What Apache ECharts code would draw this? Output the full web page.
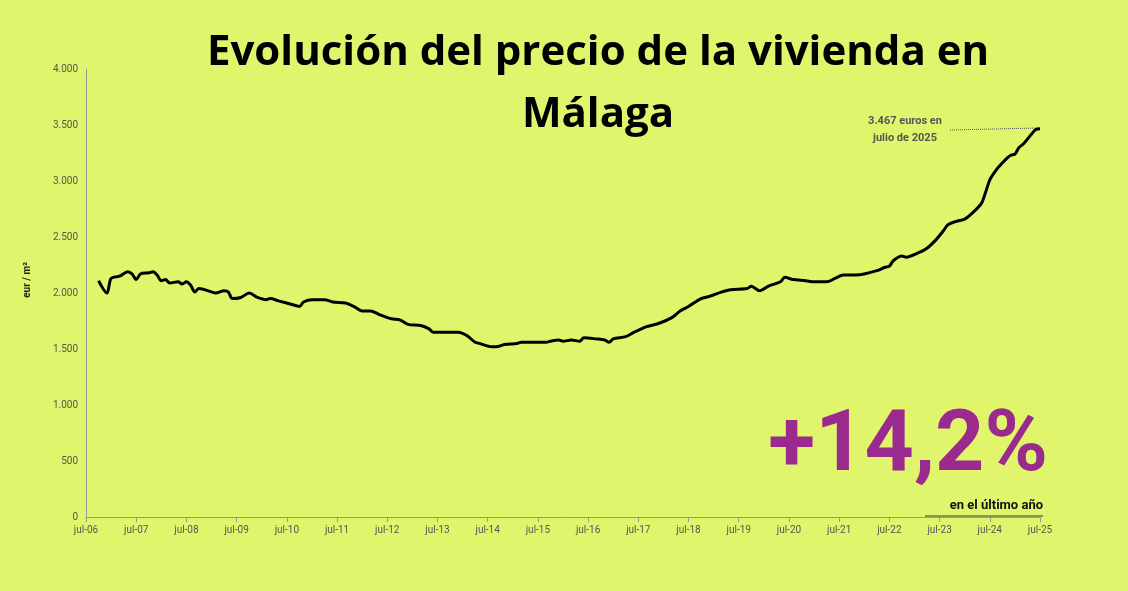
<!DOCTYPE html>
<html><head><meta charset="utf-8">
<script src="https://cdn.jsdelivr.net/npm/echarts@6/dist/echarts.min.js"></script>
<style>html,body{margin:0;background:#e1f56c}#c{width:1128px;height:591px}</style></head>
<body><div id="c"></div>
<script>
const tickLabels=['jul-06','jul-07','jul-08','jul-09','jul-10','jul-11','jul-12','jul-13','jul-14','jul-15','jul-16','jul-17','jul-18','jul-19','jul-20','jul-21','jul-22','jul-23','jul-24','jul-25'];
const months=[3,5,6,8,10,11,12,13,15,16,17,18,19,20,22,23,24,25,26,27,30,31,33,34,35,37,39,41,43,44,46,49,51,52,54,57,59,62,64,66,68,70,73,75,77,80,82,83,87,89,91,93,94,97,98,100,103,104,106,108,110,111,113,114,116,118,119,122,124,125,126,129,131,134,137,140,142,144,147,149,152,154,158,159,161,163,166,167,169,172,174,177,179,181,184,186,189,191,192,193,195,196,199,201,203,205,206,208,210,212,214,215,216,217,218,220,221,222,223,224,226,227,228];
const prices=[2110,2000,2130,2150,2190,2170,2120,2170,2180,2190,2160,2110,2120,2090,2100,2080,2100,2070,2010,2040,2010,2000,2020,2010,1950,1960,2000,1960,1940,1950,1930,1900,1880,1920,1940,1940,1920,1910,1880,1840,1840,1810,1770,1760,1720,1710,1680,1650,1650,1650,1620,1560,1550,1520,1520,1540,1550,1560,1560,1560,1560,1570,1580,1570,1580,1570,1600,1590,1580,1560,1590,1610,1650,1700,1730,1780,1840,1880,1950,1970,2010,2030,2040,2060,2020,2060,2100,2140,2120,2110,2100,2100,2130,2160,2160,2170,2200,2230,2240,2290,2330,2320,2360,2400,2470,2560,2610,2640,2660,2720,2800,2900,3010,3070,3120,3200,3230,3240,3300,3330,3420,3460,3467];
const data=months.map((m,i)=>[m,prices[i]]);
const ch=echarts.init(document.getElementById('c'));
const fmt=v=>v>=1000?Math.floor(v/1000)+'.'+String(v%1000).padStart(3,'0'):String(v);
ch.setOption({
 backgroundColor:'#e1f56c',animation:false,
 grid:{left:86,right:88,top:69,bottom:74},
 xAxis:{type:'value',min:0,max:228,interval:12,splitLine:{show:false},
  axisLine:{lineStyle:{color:'#999'}},axisTick:{show:true,lineStyle:{color:'#999'}},
  axisLabel:{color:'#555',fontSize:10,fontFamily:'Roboto',formatter:v=>tickLabels[v/12]||''}},
 yAxis:{type:'value',min:0,max:4000,interval:500,splitLine:{show:false},
  axisLine:{show:true,lineStyle:{color:'#999'}},axisTick:{show:false},
  axisLabel:{color:'#555',fontSize:10,fontFamily:'Roboto',formatter:fmt}},
 series:[{type:'line',data:data,showSymbol:false,smooth:0.3,lineStyle:{color:'#000',width:3}}],
 graphic:[
  {type:'text',x:598,y:22,style:{text:'Evolución del precio de la vivienda en\nMálaga',font:'bold 42px "Open Sans"',fill:'#000',align:'center',lineHeight:62}},
  {type:'text',x:27,y:280,rotation:Math.PI/2,style:{text:'eur / m²',font:'bold 10px Roboto',fill:'#222',align:'center',verticalAlign:'middle'}},
  {type:'text',x:1048,y:448,style:{text:'+14,2%',font:'bold 86px Roboto',fill:'#9b2a8e',align:'right',verticalAlign:'middle'}},
  {type:'text',x:1043,y:506,style:{text:'en el último año',font:'bold 13px Roboto',fill:'#111',align:'right',verticalAlign:'middle'}},
  {type:'line',shape:{x1:925,y1:516,x2:1043,y2:516},style:{stroke:'#333',lineWidth:1}},
  {type:'text',x:905,y:130,style:{text:'3.467 euros en\njulio de 2025',font:'bold 11px Roboto',fill:'#555',align:'center',verticalAlign:'middle',lineHeight:17}},
  {type:'line',shape:{x1:950,y1:130,x2:1038,y2:128},style:{stroke:'#555',lineWidth:1,lineDash:[1,1]}}
 ]
});
</script></body></html>
